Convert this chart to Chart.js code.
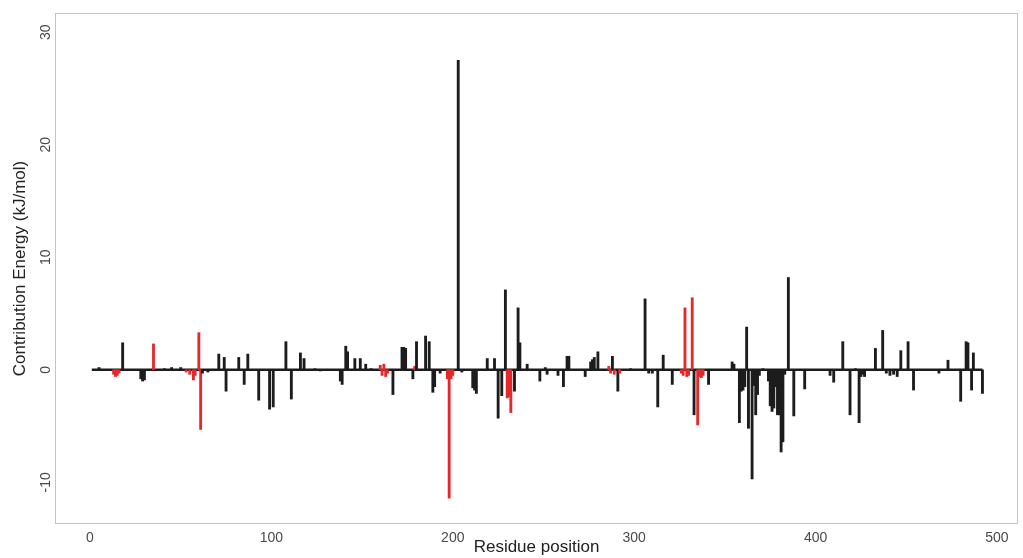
<!DOCTYPE html>
<html>
<head>
<meta charset="utf-8">
<script src="https://cdn.jsdelivr.net/npm/chart.js@4"></script>
<style>
  html, body { margin: 0; padding: 0; background: #fff; }
  #wrap { width: 1023px; height: 558px; }
</style>
</head>
<body>
<div id="wrap"><canvas id="energyChart"></canvas></div>
<script>
// Residue positions with a visible contribution (others sit on the zero line)
const residues = [
  5, 13, 14, 15, 16, 18, 28, 29, 30, 35, 41, 45, 50, 53, 55, 57, 58, 60, 61, 62, 65,
  71, 74, 75, 82, 85, 87, 93, 99, 101, 108, 111, 116, 118, 124, 127,
  138, 139, 141, 142, 146, 149, 152, 155, 160, 161, 162, 163, 164, 167,
  172, 173, 174, 178, 179, 180, 185, 187, 189, 190, 193, 197, 198, 199, 200,
  203, 205, 211, 212, 213, 219, 223, 225, 227, 229, 230, 231, 232, 234, 236, 237,
  241, 248, 251, 252, 258, 261, 263, 264, 273, 276, 277, 278, 280,
  286, 287, 288, 289, 291, 292, 298, 306, 308, 310, 313, 316, 321,
  326, 327, 328, 329, 330, 332, 333, 335, 336, 337, 338, 341,
  354, 355, 358, 359, 360, 361, 362, 363, 365, 366, 367, 368, 369, 371,
  374, 375, 376, 377, 378, 379, 380, 381, 382, 383, 385, 388, 394,
  408, 410, 415, 419, 422, 424, 425, 426, 427, 433, 437, 439, 441, 443, 445,
  447, 451, 454, 468, 473, 480, 483, 484, 486, 487, 492
];

// Contribution energy (kJ/mol) for each residue above
const energies = [
  0.2, -0.4, -0.6, -0.5, -0.3, 2.4, -0.8, -1.0, -0.9, 2.3, 0.1, 0.2, 0.2, -0.2, -0.4, -0.9, -0.5, 3.3, -5.3, -0.3, -0.2,
  1.4, 1.1, -1.9, 1.1, -1.3, 1.4, -2.7, -3.5, -3.3, 2.5, -2.6, 1.5, 1.0, 0.1, -0.1,
  -1.0, -1.3, 2.1, 1.6, 1.0, 1.0, 0.5, 0.1, 0.4, -0.5, 0.5, -0.6, -0.3, -2.2,
  2.0, 2.0, 1.9, -0.8, 0.3, 2.5, 3.0, 2.5, -2.0, -1.5, -0.3, -0.8, -11.4, -0.8, -0.5,
  27.5, -0.2, -1.6, -1.8, -2.1, 1.0, 1.0, -4.3, -2.3, 7.1, -2.5, -2.4, -3.8, -1.9, 5.5, 2.4,
  0.5, -1.0, 0.2, -0.4, -0.5, -1.5, 1.2, 1.2, -0.6, 0.7, 0.9, 1.1, 1.6,
  0.3, -0.3, 1.2, -0.4, -1.9, -0.3, 0.1, 6.3, -0.3, -0.3, -3.3, 1.3, -1.3,
  -0.3, -0.5, 5.5, -0.6, -0.5, 6.4, -4.0, -4.9, -0.6, -0.7, -0.5, -1.3,
  0.7, 0.5, -4.7, -1.9, -1.8, -1.5, 3.8, -5.2, -9.7, -1.4, -4.0, -2.2, -0.5, 0.1,
  -1.0, -3.2, -3.7, -3.4, -1.5, -4.0, -4.0, -7.3, -6.4, -0.4, 8.2, -4.1, -1.7,
  -0.5, -1.1, 2.5, -4.0, 0.1, -4.7, -0.6, -0.4, -0.6, 1.9, 3.5, -0.3, -0.5, -0.4, -0.6,
  1.7, 2.5, -1.8, -0.3, 0.85, -2.8, 2.5, 2.4, -1.8, 1.5, -2.1
];

// Residues highlighted in red
const redResidues = [
  13, 14, 15, 16, 35, 53, 55, 57, 58, 60, 61, 160, 161, 162, 163, 164, 179,
  197, 198, 199, 200, 230, 231, 232, 286, 287, 289, 292,
  326, 327, 328, 329, 330, 332, 335, 336, 337, 338
];

const firstResidue = 1;
const lastResidue = 492;
const xTicks = [0, 100, 200, 300, 400, 500];
const yTicks = [-10, 0, 10, 20, 30];

const RED = '#e5282a';
const BLACK = '#1c1c1c';

const barPoints = residues.map((r, i) => ({ x: r, y: energies[i] }));
const barColors = residues.map(r => redResidues.includes(r) ? RED : BLACK);

// Cadre gris + étiquettes de l'axe Y tournées (style R)
const rFrame = {
  id: 'rFrame',
  beforeDatasetsDraw(chart) {
    const { ctx, chartArea: a } = chart;
    ctx.save();
    ctx.strokeStyle = '#c4c4c4';
    ctx.lineWidth = 1;
    ctx.strokeRect(a.left + 0.5, a.top + 0.5, a.right - a.left - 1, a.bottom - a.top - 1);
    ctx.restore();
  },
  afterDraw(chart) {
    const { ctx } = chart;
    const ys = chart.scales.y;
    ctx.save();
    ctx.fillStyle = '#4a4a4a';
    ctx.font = '14px "Liberation Sans", Arial, sans-serif';
    ctx.textAlign = 'center';
    ctx.textBaseline = 'middle';
    ys.ticks.forEach(t => {
      const py = ys.getPixelForValue(t.value);
      ctx.save();
      ctx.translate(ys.right - 9, py);
      ctx.rotate(-Math.PI / 2);
      ctx.fillText(String(t.value), 0, 0);
      ctx.restore();
    });
    ctx.restore();
  }
};

new Chart(document.getElementById('energyChart'), {
  type: 'bar',
  data: {
    datasets: [
      {
        type: 'bar',
        data: barPoints,
        backgroundColor: barColors,
        borderWidth: 0,
        barThickness: 2.2,
        grouped: false,
        order: 1
      },
      {
        type: 'line',
        data: [{ x: firstResidue, y: 0 }, { x: lastResidue, y: 0 }],
        borderColor: BLACK,
        borderWidth: 2.4,
        pointRadius: 0,
        order: 2
      }
    ]
  },
  options: {
    responsive: true,
    maintainAspectRatio: false,
    animation: false,
    events: [],
    layout: { padding: { top: 13, right: 5, left: 0, bottom: 0 } },
    plugins: {
      legend: { display: false },
      tooltip: { enabled: false }
    },
    scales: {
      x: {
        type: 'linear',
        offset: false,
        min: -19.3,
        max: 511.6,
        afterBuildTicks: s => { s.ticks = xTicks.map(v => ({ value: v })); },
        afterFit: s => { s.height = 34; },
        grid: { display: false, drawTicks: false, offset: false },
        border: { display: false },
        ticks: {
          padding: 6,
          color: '#4a4a4a',
          font: { family: '"Liberation Sans", Arial, sans-serif', size: 14 },
          maxRotation: 0
        },
        title: {
          display: true,
          text: 'Residue position',
          color: '#222',
          font: { family: '"Liberation Sans", Arial, sans-serif', size: 17 },
          padding: { top: 0, bottom: 0 }
        }
      },
      y: {
        min: -13.7,
        max: 31.7,
        afterBuildTicks: s => { s.ticks = yTicks.map(v => ({ value: v })); },
        afterFit: s => { s.width = 55; },
        grid: { display: false, drawTicks: false },
        border: { display: false },
        ticks: { display: false },
        title: {
          display: true,
          text: 'Contribution Energy (kJ/mol)',
          color: '#222',
          font: { family: '"Liberation Sans", Arial, sans-serif', size: 17 },
          padding: { top: 10, bottom: 0 }
        }
      }
    }
  },
  plugins: [rFrame]
});
</script>
</body>
</html>
